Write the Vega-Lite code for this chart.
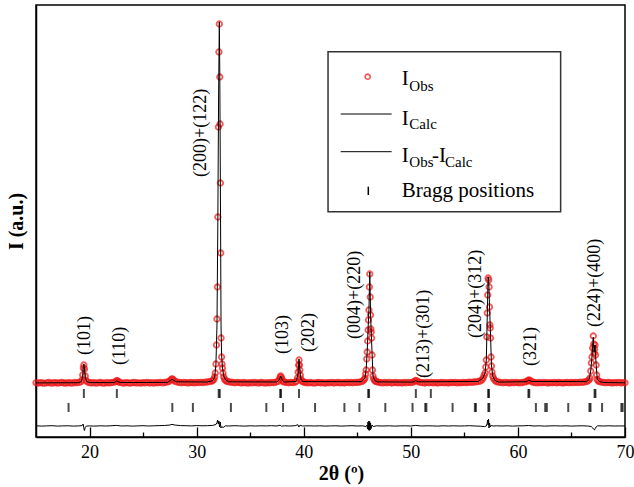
{
  "$schema": "https://vega.github.io/schema/vega-lite/v6.json",
  "width": 589,
  "height": 432,
  "autosize": {"type": "none"},
  "padding": {"left": 36, "top": 5, "right": 9, "bottom": 50},
  "background": "white",
  "config": {
    "view": {"stroke": "black", "strokeWidth": 1.5},
    "font": "Liberation Serif",
    "axis": {"grid": false}
  },
  "datasets": {
    "obs": [
      {"t":15.0,"o":54.3},{"t":15.2,"o":53.9},{"t":15.4,"o":54.4},{"t":15.6,"o":54.0},{"t":15.8,"o":53.7},{"t":16.0,"o":54.2},{"t":16.2,"o":54.5},{"t":16.4,"o":53.8},{"t":16.6,"o":54.1},{"t":16.8,"o":54.4},
      {"t":17.0,"o":53.9},{"t":17.2,"o":54.2},{"t":17.4,"o":54.6},{"t":17.6,"o":54.0},{"t":17.8,"o":53.8},{"t":18.0,"o":54.3},{"t":18.2,"o":54.1},{"t":18.4,"o":53.9},{"t":18.6,"o":54.5},{"t":18.8,"o":54.2},
      {"t":19.0,"o":54.6},{"t":19.2,"o":55.2},{"t":19.3,"o":57},{"t":19.36,"o":62},{"t":19.42,"o":69},{"t":19.47,"o":72},{"t":19.53,"o":68},{"t":19.6,"o":61},{"t":19.68,"o":56.5},{"t":19.8,"o":55.0},
      {"t":20.0,"o":54.4},{"t":20.2,"o":54.0},{"t":20.4,"o":54.3},{"t":20.6,"o":53.8},{"t":20.8,"o":54.2},{"t":21.0,"o":54.5},{"t":21.2,"o":54.0},{"t":21.4,"o":53.9},{"t":21.6,"o":54.4},{"t":21.8,"o":54.1},
      {"t":22.0,"o":54.3},{"t":22.2,"o":54.6},{"t":22.4,"o":55.2},{"t":22.5,"o":56.0},{"t":22.6,"o":56.3},{"t":22.7,"o":55.3},{"t":22.8,"o":54.6},{"t":23.0,"o":54.2},{"t":23.2,"o":53.9},{"t":23.4,"o":54.4},
      {"t":23.6,"o":54.1},{"t":23.8,"o":53.8},{"t":24.0,"o":54.3},{"t":24.2,"o":54.5},{"t":24.4,"o":54.0},{"t":24.6,"o":54.2},{"t":24.8,"o":53.9},{"t":25.0,"o":54.4},{"t":25.2,"o":54.1},{"t":25.4,"o":54.6},
      {"t":25.6,"o":54.0},{"t":25.8,"o":54.3},{"t":26.0,"o":53.9},{"t":26.2,"o":54.4},{"t":26.4,"o":54.2},{"t":26.6,"o":54.6},{"t":26.8,"o":54.1},{"t":27.0,"o":54.5},{"t":27.2,"o":54.8},{"t":27.4,"o":55.4},
      {"t":27.55,"o":56.8},{"t":27.65,"o":57.8},{"t":27.75,"o":58.0},{"t":27.85,"o":57.0},{"t":28.0,"o":55.6},{"t":28.2,"o":54.9},{"t":28.4,"o":54.5},{"t":28.6,"o":54.2},{"t":28.8,"o":54.6},{"t":29.0,"o":54.3},
      {"t":29.2,"o":54.0},{"t":29.4,"o":54.5},{"t":29.6,"o":54.4},{"t":29.8,"o":54.1},{"t":30.0,"o":54.6},{"t":30.2,"o":54.3},{"t":30.4,"o":54.7},{"t":30.6,"o":54.4},{"t":30.8,"o":54.9},{"t":31.0,"o":55.0},
      {"t":31.2,"o":55.3},{"t":31.4,"o":55.9},{"t":31.5,"o":56.5},{"t":31.6,"o":57.5},{"t":31.68,"o":60},{"t":31.74,"o":64},{"t":31.8,"o":73},{"t":31.85,"o":92},{"t":31.9,"o":118},{"t":31.94,"o":150},
      {"t":31.98,"o":220},{"t":32.03,"o":310},{"t":32.08,"o":385},{"t":32.12,"o":413},{"t":32.16,"o":360},{"t":32.19,"o":313},{"t":32.22,"o":254},{"t":32.25,"o":184},{"t":32.28,"o":99},{"t":32.33,"o":80},
      {"t":32.37,"o":73},{"t":32.41,"o":69},{"t":32.46,"o":64},{"t":32.53,"o":60},{"t":32.62,"o":57.5},{"t":32.72,"o":56.4},{"t":32.85,"o":55.6},{"t":33.0,"o":55.1},{"t":33.2,"o":54.8},{"t":33.4,"o":54.5},
      {"t":33.6,"o":54.2},{"t":33.8,"o":54.6},{"t":34.0,"o":54.3},{"t":34.2,"o":54.0},{"t":34.4,"o":54.5},{"t":34.6,"o":54.2},{"t":34.8,"o":53.9},{"t":35.0,"o":54.4},{"t":35.2,"o":54.1},{"t":35.4,"o":54.6},
      {"t":35.6,"o":54.2},{"t":35.8,"o":54.0},{"t":36.0,"o":54.5},{"t":36.2,"o":54.3},{"t":36.4,"o":53.9},{"t":36.6,"o":54.4},{"t":36.8,"o":54.1},{"t":37.0,"o":54.6},{"t":37.2,"o":54.3},{"t":37.4,"o":54.8},
      {"t":37.6,"o":55.6},{"t":37.72,"o":57.5},{"t":37.8,"o":60.2},{"t":37.86,"o":61.0},{"t":37.93,"o":59.0},{"t":38.0,"o":56.8},{"t":38.1,"o":55.4},{"t":38.2,"o":54.8},{"t":38.4,"o":54.5},{"t":38.6,"o":54.2},
      {"t":38.8,"o":54.6},{"t":39.0,"o":54.4},{"t":39.2,"o":54.9},{"t":39.32,"o":55.8},{"t":39.42,"o":59},{"t":39.48,"o":65},{"t":39.52,"o":72},{"t":39.56,"o":77},{"t":39.6,"o":72},{"t":39.64,"o":67},
      {"t":39.68,"o":62},{"t":39.74,"o":58},{"t":39.82,"o":56},{"t":39.92,"o":55.2},{"t":40.05,"o":54.8},{"t":40.2,"o":54.4},{"t":40.4,"o":54.1},{"t":40.6,"o":54.5},{"t":40.8,"o":54.2},{"t":41.0,"o":53.9},
      {"t":41.2,"o":54.4},{"t":41.4,"o":54.6},{"t":41.6,"o":54.1},{"t":41.8,"o":54.3},{"t":42.0,"o":53.9},{"t":42.2,"o":54.4},{"t":42.4,"o":54.2},{"t":42.6,"o":54.6},{"t":42.8,"o":54.0},{"t":43.0,"o":54.3},
      {"t":43.2,"o":54.5},{"t":43.4,"o":54.1},{"t":43.6,"o":54.4},{"t":43.8,"o":54.0},{"t":44.0,"o":54.6},{"t":44.2,"o":54.3},{"t":44.4,"o":54.5},{"t":44.6,"o":54.2},{"t":44.8,"o":54.7},{"t":45.0,"o":54.5},
      {"t":45.2,"o":54.9},{"t":45.4,"o":55.3},{"t":45.55,"o":56.2},{"t":45.65,"o":57.5},{"t":45.72,"o":59},{"t":45.78,"o":63},{"t":45.83,"o":67},{"t":45.88,"o":78},{"t":45.93,"o":85},{"t":45.97,"o":96},
      {"t":46.01,"o":107},{"t":46.05,"o":117},{"t":46.09,"o":127},{"t":46.13,"o":150},{"t":46.17,"o":163},{"t":46.21,"o":140},{"t":46.24,"o":122},{"t":46.27,"o":108},{"t":46.3,"o":105},{"t":46.34,"o":99},
      {"t":46.38,"o":82},{"t":46.42,"o":67},{"t":46.47,"o":61},{"t":46.54,"o":58},{"t":46.62,"o":56.5},{"t":46.72,"o":55.6},{"t":46.85,"o":55.1},{"t":47.0,"o":54.8},{"t":47.2,"o":54.4},{"t":47.4,"o":54.1},
      {"t":47.6,"o":54.5},{"t":47.8,"o":54.2},{"t":48.0,"o":54.6},{"t":48.2,"o":54.0},{"t":48.4,"o":54.3},{"t":48.6,"o":54.5},{"t":48.8,"o":54.1},{"t":49.0,"o":54.4},{"t":49.2,"o":54.0},{"t":49.4,"o":54.5},
      {"t":49.6,"o":54.2},{"t":49.8,"o":54.6},{"t":50.0,"o":54.4},{"t":50.2,"o":54.9},{"t":50.35,"o":55.7},{"t":50.45,"o":56.5},{"t":50.55,"o":56.2},{"t":50.7,"o":55.2},{"t":50.9,"o":54.6},{"t":51.1,"o":54.3},
      {"t":51.3,"o":54.0},{"t":51.5,"o":54.5},{"t":51.7,"o":54.2},{"t":51.9,"o":54.6},{"t":52.1,"o":54.1},{"t":52.3,"o":54.4},{"t":52.5,"o":54.0},{"t":52.7,"o":54.3},{"t":52.9,"o":54.6},{"t":53.1,"o":54.2},
      {"t":53.3,"o":54.4},{"t":53.5,"o":54.0},{"t":53.7,"o":54.5},{"t":53.9,"o":54.3},{"t":54.1,"o":54.6},{"t":54.3,"o":54.1},{"t":54.5,"o":54.4},{"t":54.7,"o":54.2},{"t":54.9,"o":54.6},{"t":55.1,"o":54.3},
      {"t":55.3,"o":54.5},{"t":55.5,"o":54.8},{"t":55.7,"o":54.6},{"t":55.9,"o":55.0},{"t":56.1,"o":55.1},{"t":56.3,"o":55.5},{"t":56.5,"o":56.0},{"t":56.65,"o":57.2},{"t":56.75,"o":59},{"t":56.85,"o":61.5},
      {"t":56.93,"o":64},{"t":57.0,"o":70},{"t":57.05,"o":77},{"t":57.1,"o":100},{"t":57.14,"o":124},{"t":57.18,"o":142},{"t":57.22,"o":159},{"t":57.27,"o":157},{"t":57.31,"o":150},{"t":57.35,"o":130},
      {"t":57.38,"o":112},{"t":57.41,"o":109},{"t":57.45,"o":99},{"t":57.49,"o":80},{"t":57.53,"o":71},{"t":57.58,"o":65},{"t":57.65,"o":61},{"t":57.73,"o":58.5},{"t":57.85,"o":56.5},{"t":58.0,"o":55.4},
      {"t":58.2,"o":54.9},{"t":58.4,"o":54.5},{"t":58.6,"o":54.2},{"t":58.8,"o":54.6},{"t":59.0,"o":54.3},{"t":59.2,"o":54.0},{"t":59.4,"o":54.5},{"t":59.6,"o":54.2},{"t":59.8,"o":54.6},{"t":60.0,"o":54.4},
      {"t":60.2,"o":54.1},{"t":60.4,"o":54.5},{"t":60.6,"o":54.8},{"t":60.8,"o":55.4},{"t":60.92,"o":56.4},{"t":61.02,"o":57.0},{"t":61.12,"o":56.6},{"t":61.25,"o":55.5},{"t":61.4,"o":54.9},{"t":61.6,"o":54.4},
      {"t":61.8,"o":54.1},{"t":62.0,"o":54.5},{"t":62.2,"o":54.2},{"t":62.4,"o":54.6},{"t":62.6,"o":54.3},{"t":62.8,"o":54.0},{"t":63.0,"o":54.4},{"t":63.2,"o":54.2},{"t":63.4,"o":54.6},{"t":63.6,"o":54.1},
      {"t":63.8,"o":54.5},{"t":64.0,"o":54.3},{"t":64.2,"o":54.0},{"t":64.4,"o":54.4},{"t":64.6,"o":54.6},{"t":64.8,"o":54.2},{"t":65.0,"o":54.5},{"t":65.2,"o":54.3},{"t":65.4,"o":54.7},{"t":65.6,"o":54.4},
      {"t":65.8,"o":54.8},{"t":66.0,"o":54.6},{"t":66.2,"o":55.0},{"t":66.4,"o":55.4},{"t":66.55,"o":56.2},{"t":66.65,"o":57.3},{"t":66.73,"o":59},{"t":66.8,"o":66},{"t":66.86,"o":74},{"t":66.92,"o":80},
      {"t":66.98,"o":89},{"t":67.04,"o":101},{"t":67.08,"o":93},{"t":67.12,"o":84},{"t":67.16,"o":88},{"t":67.2,"o":92},{"t":67.25,"o":82},{"t":67.3,"o":72},{"t":67.35,"o":62},{"t":67.41,"o":57.5},
      {"t":67.5,"o":56},{"t":67.62,"o":55.3},{"t":67.8,"o":54.8},{"t":68.0,"o":54.5},{"t":68.2,"o":54.2},{"t":68.4,"o":54.6},{"t":68.6,"o":54.3},{"t":68.8,"o":54.0},{"t":69.0,"o":54.4},{"t":69.2,"o":54.2},
      {"t":69.4,"o":54.6},{"t":69.6,"o":54.1},{"t":69.8,"o":54.4},{"t":70.0,"o":54.2}
    ],
    "calc": [
      {"t":15.0,"c":54.1},{"t":19.0,"c":54.3},{"t":19.25,"c":55.5},{"t":19.36,"c":61},{"t":19.42,"c":69},{"t":19.47,"c":73},{"t":19.53,"c":69},{"t":19.6,"c":60},{"t":19.72,"c":55.5},{"t":20.0,"c":54.4},
      {"t":22.3,"c":54.4},{"t":22.45,"c":55.4},{"t":22.55,"c":56.3},{"t":22.65,"c":55.5},{"t":22.85,"c":54.5},{"t":27.3,"c":54.6},{"t":27.55,"c":56.6},{"t":27.7,"c":57.8},{"t":27.85,"c":56.8},{"t":28.1,"c":55.2},
      {"t":31.0,"c":55.0},{"t":31.5,"c":56.3},{"t":31.68,"c":59.5},{"t":31.8,"c":72},{"t":31.9,"c":112},{"t":31.98,"c":215},{"t":32.05,"c":340},{"t":32.12,"c":415},{"t":32.16,"c":365},{"t":32.2,"c":290},
      {"t":32.24,"c":200},{"t":32.28,"c":110},{"t":32.33,"c":82},{"t":32.41,"c":70},{"t":32.53,"c":61},{"t":32.7,"c":57},{"t":33.0,"c":55.2},{"t":37.5,"c":55.0},{"t":37.72,"c":57.4},{"t":37.86,"c":61},
      {"t":38.0,"c":56.8},{"t":38.2,"c":55},{"t":39.3,"c":55.5},{"t":39.48,"c":64},{"t":39.56,"c":78},{"t":39.64,"c":67},{"t":39.74,"c":58},{"t":39.9,"c":55.4},{"t":45.4,"c":55.3},{"t":45.72,"c":59},
      {"t":45.83,"c":68},{"t":45.93,"c":86},{"t":46.01,"c":108},{"t":46.09,"c":128},{"t":46.17,"c":165},{"t":46.24,"c":124},{"t":46.3,"c":106},{"t":46.38,"c":84},{"t":46.47,"c":61},{"t":46.62,"c":56.6},
      {"t":46.9,"c":55.1},{"t":50.2,"c":54.9},{"t":50.45,"c":56.4},{"t":50.7,"c":55.2},{"t":56.3,"c":55.5},{"t":56.75,"c":59},{"t":56.93,"c":64},{"t":57.05,"c":77},{"t":57.14,"c":122},{"t":57.22,"c":160},
      {"t":57.27,"c":158},{"t":57.35,"c":131},{"t":57.45,"c":100},{"t":57.53,"c":72},{"t":57.65,"c":61},{"t":57.85,"c":56.5},{"t":58.2,"c":54.9},{"t":60.8,"c":55.3},{"t":61.02,"c":57},{"t":61.25,"c":55.5},
      {"t":66.4,"c":55.4},{"t":66.65,"c":57.5},{"t":66.8,"c":66},{"t":66.92,"c":81},{"t":67.04,"c":100},{"t":67.12,"c":85},{"t":67.2,"c":92},{"t":67.3,"c":73},{"t":67.41,"c":58},{"t":67.62,"c":55.4},
      {"t":68.0,"c":54.5},{"t":70.0,"c":54.2}
    ],
    "diff": [
      {"t":15.0,"d":11.2},{"t":15.5,"d":10.9},{"t":16.0,"d":11.1},{"t":16.5,"d":11.3},{"t":17.0,"d":10.9},{"t":17.5,"d":11.1},{"t":18.0,"d":11.2},{"t":18.5,"d":10.9},{"t":19.0,"d":11.1},{"t":19.3,"d":11.4},
      {"t":19.4,"d":13},{"t":19.47,"d":9},{"t":19.52,"d":6.5},{"t":19.6,"d":9.5},{"t":19.7,"d":11},{"t":20.0,"d":11.1},{"t":20.5,"d":10.9},{"t":21.0,"d":11.2},{"t":21.5,"d":11.0},{"t":22.0,"d":11.2},
      {"t":22.5,"d":11.6},{"t":23.0,"d":11.0},{"t":23.5,"d":11.2},{"t":24.0,"d":10.9},{"t":24.5,"d":11.1},{"t":25.0,"d":11.3},{"t":25.5,"d":11.0},{"t":26.0,"d":11.2},{"t":26.5,"d":11.4},{"t":27.0,"d":11.5},
      {"t":27.5,"d":12.0},{"t":27.7,"d":12.6},{"t":28.0,"d":11.9},{"t":28.5,"d":11.4},{"t":29.0,"d":11.3},{"t":29.5,"d":11.1},{"t":30.0,"d":11.4},{"t":30.5,"d":11.2},{"t":31.0,"d":11.3},{"t":31.5,"d":11.6},
      {"t":31.8,"d":12.5},{"t":31.9,"d":14.5},{"t":31.96,"d":17},{"t":32.02,"d":13},{"t":32.08,"d":16},{"t":32.14,"d":10},{"t":32.2,"d":15},{"t":32.27,"d":9},{"t":32.35,"d":10.5},{"t":32.45,"d":9.5},
      {"t":32.55,"d":10},{"t":32.7,"d":11.2},{"t":33.0,"d":11.0},{"t":33.5,"d":11.3},{"t":34.0,"d":11.1},{"t":34.5,"d":10.9},{"t":35.0,"d":11.2},{"t":35.5,"d":11.0},{"t":36.0,"d":11.2},{"t":36.5,"d":11.1},
      {"t":37.0,"d":11.3},{"t":37.5,"d":11.0},{"t":37.8,"d":11.8},{"t":37.9,"d":10.8},{"t":38.2,"d":11.2},{"t":38.7,"d":11.0},{"t":39.2,"d":11.3},{"t":39.45,"d":12.3},{"t":39.55,"d":10.0},{"t":39.65,"d":11.8},
      {"t":39.9,"d":11.0},{"t":40.5,"d":11.2},{"t":41.0,"d":11.0},{"t":41.5,"d":11.2},{"t":42.0,"d":10.9},{"t":42.5,"d":11.1},{"t":43.0,"d":11.2},{"t":43.5,"d":10.9},{"t":44.0,"d":11.1},{"t":44.5,"d":11.3},
      {"t":45.0,"d":11.0},{"t":45.5,"d":11.2},{"t":45.8,"d":10.5},{"t":45.9,"d":11.8},{"t":45.96,"d":8},{"t":46.0,"d":15},{"t":46.04,"d":7},{"t":46.08,"d":16},{"t":46.12,"d":6.5},{"t":46.16,"d":15.5},
      {"t":46.2,"d":7},{"t":46.24,"d":14},{"t":46.3,"d":8.5},{"t":46.38,"d":12},{"t":46.5,"d":10.5},{"t":46.8,"d":11.2},{"t":47.3,"d":11.0},{"t":48.0,"d":11.2},{"t":48.5,"d":10.9},{"t":49.0,"d":11.1},
      {"t":49.5,"d":11.2},{"t":50.0,"d":11.0},{"t":50.45,"d":11.6},{"t":51.0,"d":11.0},{"t":51.5,"d":11.2},{"t":52.0,"d":11.1},{"t":52.5,"d":10.9},{"t":53.0,"d":11.2},{"t":53.5,"d":11.0},{"t":54.0,"d":11.2},
      {"t":54.5,"d":11.0},{"t":55.0,"d":11.1},{"t":55.5,"d":11.3},{"t":56.0,"d":11.0},{"t":56.5,"d":10.8},{"t":56.9,"d":10.4},{"t":57.05,"d":11},{"t":57.12,"d":13.5},{"t":57.18,"d":17},{"t":57.22,"d":12},
      {"t":57.26,"d":18},{"t":57.3,"d":9},{"t":57.35,"d":14},{"t":57.42,"d":10},{"t":57.5,"d":11.5},{"t":57.7,"d":11.0},{"t":58.0,"d":11.2},{"t":58.5,"d":11.0},{"t":59.0,"d":11.2},{"t":59.5,"d":10.9},
      {"t":60.0,"d":11.1},{"t":60.5,"d":11.2},{"t":61.0,"d":11.5},{"t":61.5,"d":11.0},{"t":62.0,"d":11.2},{"t":62.5,"d":10.9},{"t":63.0,"d":11.1},{"t":63.5,"d":11.2},{"t":64.0,"d":11.0},{"t":64.5,"d":11.2},
      {"t":65.0,"d":10.9},{"t":65.5,"d":11.1},{"t":66.0,"d":11.2},{"t":66.5,"d":11.0},{"t":66.85,"d":10.5},{"t":66.95,"d":9.5},{"t":67.05,"d":8},{"t":67.15,"d":7},{"t":67.22,"d":8.5},{"t":67.3,"d":10},
      {"t":67.45,"d":11.2},{"t":68.0,"d":11.0},{"t":68.5,"d":11.2},{"t":69.0,"d":11.0},{"t":69.5,"d":11.1},{"t":70.0,"d":11.0}
    ],
    "bragg1": [
      {"t":19.47},{"t":22.55},{"t":32.06},{"t":32.16},{"t":37.8},{"t":37.88},{"t":39.56},{"t":46.02},{"t":46.1},{"t":50.47},
      {"t":51.87},{"t":57.22},{"t":57.3},{"t":60.98},{"t":61.06},{"t":67.16},{"t":67.24}
    ],
    "bragg2": [
      {"t":18.04},{"t":27.73},{"t":29.65},{"t":33.2},{"t":36.51},{"t":38.07},{"t":41.06},{"t":43.8},{"t":45.2},{"t":47.62},
      {"t":50.16},{"t":51.35},{"t":51.45},{"t":53.9},{"t":55.98},{"t":56.08},{"t":57.24},{"t":57.32},{"t":61.68},{"t":62.55},
      {"t":62.7},{"t":64.7},{"t":66.68},{"t":66.78},{"t":67.86},{"t":69.66},{"t":69.78}
    ],
    "labels": [
      {"hkl":"(101)","t":19.53,"i":82},
      {"hkl":"(110)","t":22.8,"i":72},
      {"hkl":"(200)+(122)","t":30.37,"i":260},
      {"hkl":"(103)","t":38.04,"i":83},
      {"hkl":"(202)","t":40.47,"i":85},
      {"hkl":"(004)+(220)","t":44.8,"i":98},
      {"hkl":"(213)+(301)","t":51.22,"i":59},
      {"hkl":"(204)+(312)","t":56.1,"i":99},
      {"hkl":"(321)","t":61.21,"i":71},
      {"hkl":"(224)+(400)","t":67.2,"i":110}
    ],
    "one": [{}]
  },
  "layer": [
    {
      "data": {"name": "obs"},
      "mark": {"type": "point", "shape": "circle", "filled": false, "color": "#f01414", "size": 30, "strokeWidth": 1.8},
      "encoding": {
        "x": {
          "field": "t", "type": "quantitative",
          "scale": {"domain": [15, 70], "nice": false, "zero": false},
          "axis": {
            "values": [20, 25, 30, 35, 40, 45, 50, 55, 60, 65, 70],
            "labelExpr": "datum.value % 10 === 0 ? datum.label : ''",
            "tickSize": {"condition": {"test": "datum.value % 10 === 0", "value": -10}, "value": -5},
            "tickColor": "black",
            "tickWidth": 1.3,
            "domainColor": "black",
            "domainWidth": 1.5,
            "labelFont": "Liberation Serif",
            "labelFontSize": 18,
            "labelColor": "black",
            "labelFlush": false,
            "labelPadding": 16,
            "title": "2θ (º)",
            "titleFont": "Liberation Serif",
            "titleFontSize": 20,
            "titleFontWeight": "bold",
            "titleColor": "black",
            "titlePadding": 2,
            "titleX": 305
          }
        },
        "y": {
          "field": "o", "type": "quantitative",
          "scale": {"domain": [0, 432], "nice": false, "zero": false},
          "axis": {
            "labels": false,
            "ticks": false,
            "domainColor": "black",
            "domainWidth": 1.5,
            "title": "I (a.u.)",
            "titleFont": "Liberation Serif",
            "titleFontSize": 20,
            "titleFontWeight": "bold",
            "titleColor": "black",
            "titlePadding": 10
          }
        }
      }
    },
    {
      "data": {"name": "calc"},
      "mark": {"type": "line", "color": "black", "strokeWidth": 1},
      "encoding": {
        "x": {"field": "t", "type": "quantitative"},
        "y": {"field": "c", "type": "quantitative"}
      }
    },
    {
      "data": {"name": "diff"},
      "mark": {"type": "line", "color": "black", "strokeWidth": 1},
      "encoding": {
        "x": {"field": "t", "type": "quantitative"},
        "y": {"field": "d", "type": "quantitative"}
      }
    },
    {
      "data": {"name": "bragg1"},
      "mark": {"type": "tick", "orient": "vertical", "color": "black", "size": 9, "thickness": 2},
      "encoding": {
        "x": {"field": "t", "type": "quantitative"},
        "y": {"datum": 43.5}
      }
    },
    {
      "data": {"name": "bragg2"},
      "mark": {"type": "tick", "orient": "vertical", "color": "black", "size": 9, "thickness": 2},
      "encoding": {
        "x": {"field": "t", "type": "quantitative"},
        "y": {"datum": 29.5}
      }
    },
    {
      "data": {"name": "labels"},
      "mark": {"type": "text", "angle": 270, "align": "left", "baseline": "middle", "font": "Liberation Serif", "fontSize": 18, "color": "black"},
      "encoding": {
        "x": {"field": "t", "type": "quantitative"},
        "y": {"field": "i", "type": "quantitative"},
        "text": {"field": "hkl"}
      }
    },
    {
      "data": {"name": "one"},
      "mark": {"type": "rect", "fill": "white", "stroke": "#333333", "strokeWidth": 1.5},
      "encoding": {
        "x": {"datum": 42.27}, "x2": {"datum": 63.99},
        "y": {"datum": 225.3}, "y2": {"datum": 385.3}
      }
    },
    {
      "data": {"name": "one"},
      "mark": {"type": "point", "shape": "circle", "filled": false, "color": "#f01414", "size": 26, "strokeWidth": 1.6},
      "encoding": {"x": {"datum": 45.97}, "y": {"datum": 360.3}}
    },
    {
      "data": {"name": "one"},
      "mark": {"type": "rule", "color": "black", "strokeWidth": 1},
      "encoding": {"x": {"datum": 43.45}, "x2": {"datum": 48.21}, "y": {"datum": 323}}
    },
    {
      "data": {"name": "one"},
      "mark": {"type": "rule", "color": "black", "strokeWidth": 1},
      "encoding": {"x": {"datum": 43.45}, "x2": {"datum": 48.21}, "y": {"datum": 285.3}}
    },
    {
      "data": {"name": "one"},
      "mark": {"type": "rule", "color": "black", "strokeWidth": 1.5},
      "encoding": {"x": {"datum": 46.03}, "y": {"datum": 242}, "y2": {"datum": 250.3}}
    },
    {
      "data": {"values": [
        {"txt": "I", "t": 49.15, "i": 352},
        {"txt": "I", "t": 49.15, "i": 312},
        {"txt": "I", "t": 49.15, "i": 275.3},
        {"txt": "-I", "t": 51.98, "i": 275.3},
        {"txt": "Bragg positions", "t": 49.15, "i": 240.3}
      ]},
      "mark": {"type": "text", "align": "left", "baseline": "alphabetic", "font": "Liberation Serif", "fontSize": 21, "color": "black"},
      "encoding": {
        "x": {"field": "t", "type": "quantitative"},
        "y": {"field": "i", "type": "quantitative"},
        "text": {"field": "txt"}
      }
    },
    {
      "data": {"values": [
        {"txt": "Obs", "t": 49.86, "i": 346.3},
        {"txt": "Calc", "t": 49.86, "i": 307.7},
        {"txt": "Obs", "t": 49.86, "i": 270.5},
        {"txt": "Calc", "t": 53.19, "i": 270.5}
      ]},
      "mark": {"type": "text", "align": "left", "baseline": "alphabetic", "font": "Liberation Serif", "fontSize": 15, "color": "black"},
      "encoding": {
        "x": {"field": "t", "type": "quantitative"},
        "y": {"field": "i", "type": "quantitative"},
        "text": {"field": "txt"}
      }
    }
  ]
}
